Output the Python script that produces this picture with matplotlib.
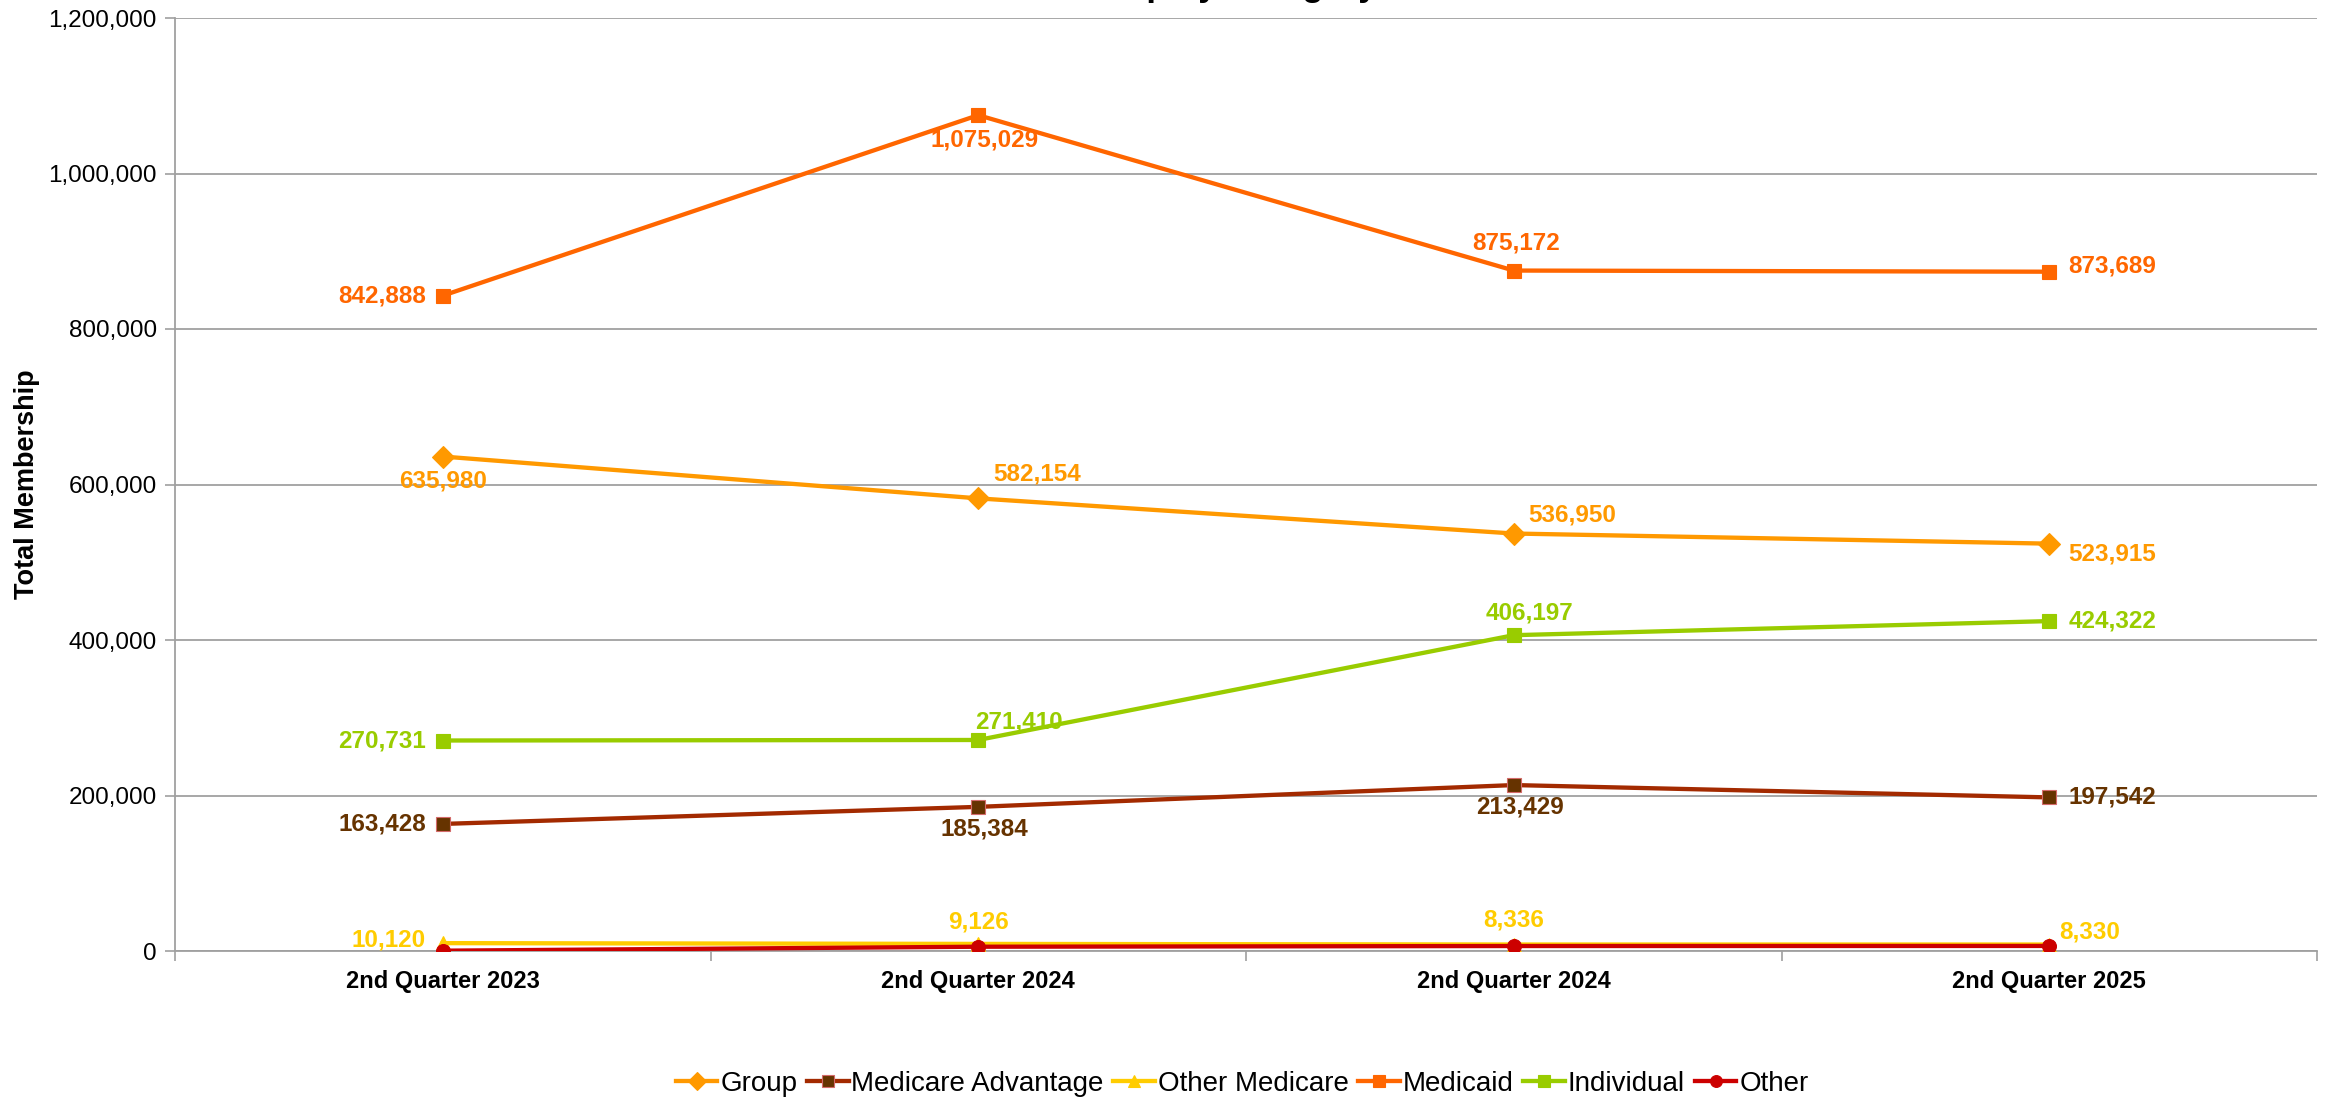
import matplotlib
matplotlib.use("Agg")
import matplotlib.pyplot as plt

plt.rcParams['font.family'] = ['Liberation Sans', 'DejaVu Sans']

quarters = ["2nd Quarter 2023", "2nd Quarter 2024", "2nd Quarter 2024", "2nd Quarter 2025"]

group = [635980, 582154, 536950, 523915]
medicare_adv = [163428, 185384, 213429, 197542]
other_medicare = [10120, 9126, 8336, 8330]
medicaid = [842888, 1075029, 875172, 873689]
individual = [270731, 271410, 406197, 424322]
other = [400, 5500, 6400, 6500]

# name, values, line colour, marker, marker face, label colour, label offsets (px dx, dy, ha)
series = [
    ("Group", group, "#FF9900", "D", "#FF9900", "#FF9900",
     [(0, -24, "center"), (15, 24, "left"), (15, 19, "left"), (19, -10, "left")]),
    ("Medicare Advantage", medicare_adv, "#A32A00", "s", "#663300", "#663300",
     [(-17, 0, "right"), (6, -22, "center"), (6, -22, "center"), (19, 0, "left")]),
    ("Other Medicare", other_medicare, "#FFCC00", "^", "#FFCC00", "#FFCC00",
     [(-17, 3, "right"), (0, 22, "center"), (0, 25, "center"), (10, 13, "left")]),
    ("Medicaid", medicaid, "#FF6600", "s", "#FF6600", "#FF6600",
     [(-17, 0, "right"), (6, -25, "center"), (2, 28, "center"), (19, 6, "left")]),
    ("Individual", individual, "#99CC00", "s", "#99CC00", "#99CC00",
     [(-17, 0, "right"), (-3, 18, "left"), (16, 22, "center"), (19, 0, "left")]),
    ("Other", other, "#CC0000", "o", "#CC0000", "#CC0000", None),
]

W, H = 2326, 1102
fig = plt.figure(figsize=(W / 100, H / 100), dpi=100)
ax = fig.add_axes([175 / W, 1 - 951 / H, (2317 - 175) / W, (951 - 18) / H])

x = list(range(len(quarters)))
px = 72 / 100.0

for name, vals, lc, mk, mfc, tc, offs in series:
    mec = "#D46A6A" if name == "Medicare Advantage" else mfc
    ms = 11 if mk == "D" else 10
    ax.plot(x, vals, color=lc, lw=3.1, marker=mk, markersize=ms,
            markerfacecolor=mfc, markeredgecolor=mec, markeredgewidth=0.8,
            label=name, zorder=3)
    if offs is None:
        continue
    for i, v in enumerate(vals):
        dx, dy, ha = offs[i]
        ax.annotate(f"{v:,}", (x[i], v), xytext=(dx * px, dy * px),
                    textcoords="offset points", ha=ha, va="center",
                    fontsize=17.5, fontweight="bold", color=tc, zorder=4)

ax.set_xlim(-0.5, len(quarters) - 0.5)
ax.set_ylim(0, 1200000)
ax.set_yticks(range(0, 1200001, 200000))
ax.set_yticklabels([f"{t:,}" for t in range(0, 1200001, 200000)], fontsize=17.5)
ax.yaxis.grid(True, color="#A0A0A0", lw=1.3)
ax.set_axisbelow(True)

ax.set_xticks([i - 0.5 for i in range(len(quarters) + 1)])
ax.set_xticklabels([])
ax.set_xticks(x, minor=True)
ax.set_xticklabels(quarters, minor=True, fontsize=17, fontweight="bold")
ax.tick_params(axis="x", which="minor", length=0, pad=14)
ax.tick_params(axis="x", which="major", length=7, color="#A0A0A0", width=1.2)
ax.tick_params(axis="y", length=7, color="#A0A0A0", width=1.2, pad=6)

for s in ["top", "right"]:
    ax.spines[s].set_visible(False)
for s in ["left", "bottom"]:
    ax.spines[s].set_color("#A0A0A0")
    ax.spines[s].set_linewidth(1.3)

fig.text(27 / W, 1 - ((18 + 951) / 2) / H, "Total Membership", rotation=90,
         ha="center", va="center", fontsize=19.5, fontweight="bold")

# title sits mostly above the visible area, as in the original
fig.text(0.503, 1 + 4 / H, "Membership by Category", ha="center", va="baseline",
         fontsize=25, fontweight="bold")

fig.legend(loc="center", bbox_to_anchor=(0.534, 1 - 1084 / H), ncol=6,
           frameon=False, fontsize=20, handlelength=1.5, handletextpad=0.1,
           columnspacing=0.35, markerscale=0.85)

fig.savefig("out.png", dpi=100)
